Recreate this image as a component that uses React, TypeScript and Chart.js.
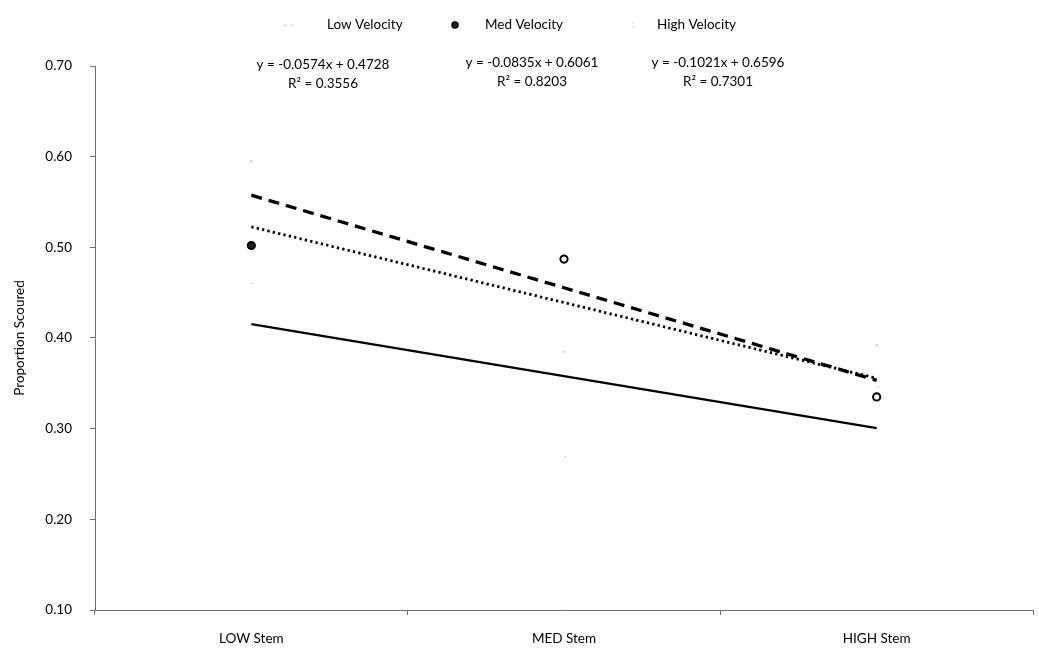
import React, { useEffect, useRef } from 'react';
import { Chart, registerables } from 'chart.js';

Chart.register(...registerables);

// ---- data ----
const categories = ['LOW Stem', 'MED Stem', 'HIGH Stem'];
const seriesNames = ['Low Velocity', 'Med Velocity', 'High Velocity'];
const lowVelocity = [0.46, 0.269, 0.346];
const medVelocity = [0.502, 0.487, 0.335];
const highVelocity = [0.595, 0.385, 0.392];
const trendSlopes = [-0.0574, -0.0835, -0.1021];
const trendIntercepts = [0.4728, 0.6061, 0.6596];
const trendR2 = [0.3556, 0.8203, 0.7301];
const yMin = 0.1;
const yMax = 0.7;
const yStep = 0.1;
const yTitle = 'Proportion Scoured';

const FONT = 'Lato, "Open Sans", sans-serif';
const AXIS_COLOR = '#6e6e6e';

const trendValues = (k: number) =>
  categories.map((_, i) => trendSlopes[k] * (i + 1) + trendIntercepts[k]);

const fmtEq = (k: number) => {
  const s = trendSlopes[k];
  const b = trendIntercepts[k];
  return `y = ${s < 0 ? '-' : ''}${Math.abs(s).toFixed(4)}x ${b < 0 ? '-' : '+'} ${Math.abs(b).toFixed(4)}`;
};

const overlayPlugin = {
  id: 'overlay',
  afterDraw(chart: any) {
    const ctx = chart.ctx as CanvasRenderingContext2D;
    ctx.save();
    ctx.fillStyle = '#000';
    ctx.font = `13.5px ${FONT}`;
    ctx.textBaseline = 'middle';
    ctx.textAlign = 'left';
    // legend
    const legendY = 25;
    const markerX = [289, 455, 633];
    const textX = [327, 485, 657];
    seriesNames.forEach((name, i) => {
      const mx = markerX[i];
      if (i === 0) {
        ctx.fillStyle = '#d4d4d4';
        ctx.fillRect(mx - 5, legendY - 0.5, 3, 1.5);
        ctx.fillRect(mx + 1, legendY - 0.5, 3, 1.5);
      } else if (i === 1) {
        ctx.beginPath();
        ctx.arc(mx, legendY, 3, 0, Math.PI * 2);
        ctx.fillStyle = '#222';
        ctx.fill();
        ctx.lineWidth = 1.5;
        ctx.strokeStyle = '#000';
        ctx.stroke();
      } else {
        ctx.fillStyle = '#d8d8d8';
        ctx.fillRect(mx - 0.5, legendY - 3, 1.5, 1.5);
        ctx.fillRect(mx - 0.5, legendY + 1, 1.5, 1.5);
      }
      ctx.fillStyle = '#000';
      ctx.fillText(name, textX[i], legendY);
    });
    // trend equations
    ctx.textAlign = 'center';
    const eqX = [323, 532, 718];
    const eqY = [65, 63, 63];
    seriesNames.forEach((_, i) => {
      ctx.fillText(fmtEq(i), eqX[i], eqY[i]);
      ctx.fillText(`R² = ${trendR2[i].toFixed(4)}`, eqX[i], eqY[i] + 19);
    });
    ctx.restore();
  },
};

export default function App() {
  const ref = useRef<HTMLCanvasElement>(null);

  useEffect(() => {
    if (!ref.current) return;
    const tickFont = { family: FONT, size: 13.5 };
    const chart = new Chart(ref.current, {
      type: 'line',
      data: {
        labels: categories,
        datasets: [
          {
            label: seriesNames[0],
            data: lowVelocity,
            showLine: false,
            pointStyle: 'dash',
            pointRadius: 3,
            borderColor: '#d0d0d0',
            backgroundColor: '#d0d0d0',
            pointBorderWidth: 1,
          },
          {
            label: seriesNames[1],
            data: medVelocity,
            showLine: false,
            pointStyle: 'circle',
            pointRadius: 3.6,
            pointBorderWidth: 2,
            borderColor: '#000',
            pointBackgroundColor: ['#222', '#fff', '#fff'],
          },
          {
            label: seriesNames[2],
            data: highVelocity,
            showLine: false,
            pointStyle: 'rect',
            pointRadius: 1,
            borderColor: '#d0d0d0',
            backgroundColor: '#d0d0d0',
            pointBorderWidth: 1,
          },
          {
            label: 'Linear (' + seriesNames[0] + ')',
            data: trendValues(0),
            borderColor: '#000',
            borderWidth: 2.3,
            pointRadius: 0,
            fill: false,
          },
          {
            label: 'Linear (' + seriesNames[1] + ')',
            data: trendValues(1),
            borderColor: '#000',
            borderWidth: 2.8,
            borderDash: [2.3, 3.2],
            pointRadius: 0,
            fill: false,
          },
          {
            label: 'Linear (' + seriesNames[2] + ')',
            data: trendValues(2),
            borderColor: '#000',
            borderWidth: 3.3,
            borderDash: [11, 7],
            pointRadius: 0,
            fill: false,
          },
        ],
      },
      options: {
        responsive: false,
        animation: false,
        layout: { padding: { top: 66, right: 3, left: 0, bottom: 0 } },
        plugins: {
          legend: { display: false },
          tooltip: { enabled: false },
        },
        scales: {
          x: {
            type: 'category',
            offset: true,
            grid: {
              display: true,
              drawOnChartArea: false,
              offset: true,
              tickLength: 5,
              color: AXIS_COLOR,
            },
            border: { display: true, color: AXIS_COLOR, width: 1 },
            ticks: { font: tickFont, color: '#000', padding: 16, maxRotation: 0 },
            afterFit: (s: any) => {
              s.height = 44;
            },
          },
          y: {
            min: yMin,
            max: yMax,
            ticks: {
              stepSize: yStep,
              font: tickFont,
              color: '#000',
              padding: 18,
              callback: (v: any) => Number(v).toFixed(2),
            },
            grid: {
              display: true,
              drawOnChartArea: false,
              tickLength: 5,
              color: AXIS_COLOR,
            },
            border: { display: true, color: AXIS_COLOR, width: 1 },
            title: {
              display: true,
              text: yTitle,
              font: { family: FONT, size: 13.5 },
              color: '#000',
              padding: { top: 12, bottom: 0 },
            },
            afterFit: (s: any) => {
              s.width = 95;
            },
          },
        },
      },
      plugins: [overlayPlugin],
    });
    return () => chart.destroy();
  }, []);

  return (
    <div style={{ position: 'absolute', left: 0, top: 0, width: 1039, height: 654, background: '#fff' }}>
      <canvas ref={ref} width={1039} height={654} style={{ display: 'block' }} />
    </div>
  );
}
